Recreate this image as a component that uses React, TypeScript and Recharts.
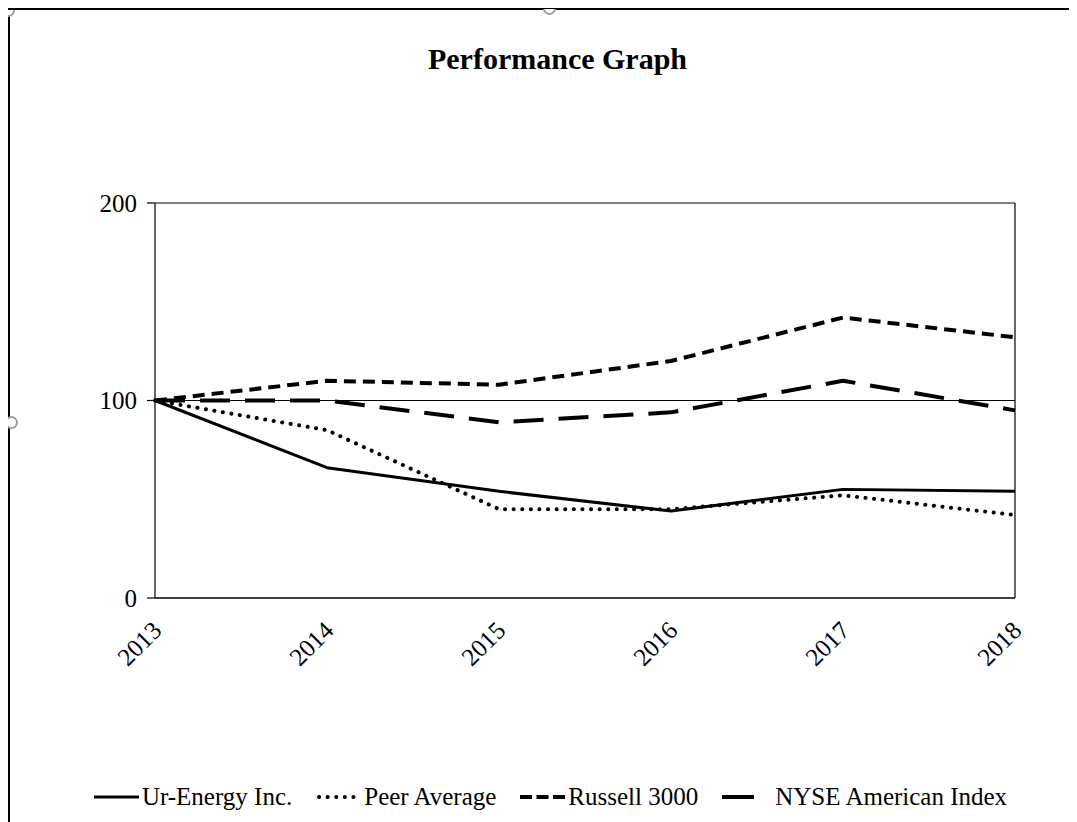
import {
  CartesianGrid,
  Legend,
  Line,
  LineChart,
  ReferenceLine,
  XAxis,
  YAxis,
} from "recharts";

const years = ["2013", "2014", "2015", "2016", "2017", "2018"];
const urEnergy = [100, 66, 54, 44, 55, 54];
const peerAverage = [100, 85, 45, 45, 52, 42];
const russell3000 = [100, 110, 108, 120, 142, 132];
const nyseAmerican = [100, 100, 89, 94, 110, 95];
const yTicks = [0, 100, 200];

const FONT = '"Liberation Serif", "Times New Roman", serif';

const data = years.map((year, i) => ({
  year,
  ur: urEnergy[i],
  peer: peerAverage[i],
  russell: russell3000[i],
  nyse: nyseAmerican[i],
}));

const series = [
  { key: "ur", name: "Ur-Energy Inc.", dash: undefined, width: 3, cap: "butt", iconDash: undefined },
  { key: "peer", name: "Peer Average", dash: "0.1 8.5", width: 4, cap: "round", iconDash: "0.1 8.5" },
  { key: "russell", name: "Russell 3000", dash: "12 7", width: 4, cap: "butt", iconDash: "12 4.5" },
  { key: "nyse", name: "NYSE American Index", dash: "30 15", width: 4, cap: "butt", iconDash: "32 40" },
];

function YearTick(props: any) {
  const { x, y, payload } = props;
  return (
    <g transform={`translate(${x + 8},${y + 34})`}>
      <text
        transform="rotate(-45)"
        textAnchor="end"
        fontFamily={FONT}
        fontSize={25}
        fill="#000"
      >
        {payload.value}
      </text>
    </g>
  );
}

function ChartLegend() {
  return (
    <div
      style={{
        display: "flex",
        justifyContent: "center",
        alignItems: "center",
        gap: 24,
        paddingLeft: 14,
        fontFamily: FONT,
        fontSize: 25,
        color: "#000",
        whiteSpace: "nowrap",
      }}
    >
      {series.map((s) => (
        <div key={s.key} style={{ display: "flex", alignItems: "center" }}>
          <svg width={45} height={12} style={{ marginRight: s.key === "nyse" ? 8 : 3 }}>
            <line
              x1={s.key === "peer" ? 3 : 0}
              y1={6}
              x2={45}
              y2={6}
              stroke="#000"
              strokeWidth={s.width}
              strokeDasharray={s.iconDash}
              strokeLinecap={s.cap as any}
            />
          </svg>
          <span>{s.name}</span>
        </div>
      ))}
    </div>
  );
}

const handle = {
  position: "absolute" as const,
  width: 13,
  height: 13,
  borderRadius: "50%",
  border: "2px solid #a0a0a0",
  background: "#fff",
  boxSizing: "border-box" as const,
};

export default function App() {
  return (
    <div
      style={{
        position: "relative",
        width: 1069,
        height: 814,
        borderTop: "2px solid #000",
        borderLeft: "2px solid #000",
        boxSizing: "border-box",
        background: "#fff",
      }}
    >
      <div
        style={{
          position: "absolute",
          top: 32,
          left: 0,
          width: 1095,
          textAlign: "center",
          fontFamily: FONT,
          fontWeight: "bold",
          fontSize: 30,
          color: "#000",
        }}
      >
        Performance Graph
      </div>
      <LineChart
        width={1067}
        height={812}
        data={data}
        margin={{ top: 193, right: 62, bottom: 144, left: 85 }}
      >
        <CartesianGrid horizontal vertical={false} stroke="#000" strokeWidth={1.2} />
        <XAxis
          dataKey="year"
          tick={<YearTick />}
          tickLine={false}
          tickSize={0}
          tickMargin={0}
          height={80}
          axisLine={{ stroke: "#000", strokeWidth: 1.2 }}
          interval={0}
        />
        <YAxis
          domain={[0, 200]}
          ticks={yTicks}
          width={60}
          tickSize={8}
          tickMargin={10}
          axisLine={{ stroke: "#000", strokeWidth: 1.2 }}
          tickLine={{ stroke: "#000", strokeWidth: 1.2 }}
          tick={{ fontFamily: FONT, fontSize: 25, fill: "#000" }}
        />
        <ReferenceLine x="2018" stroke="#000" strokeWidth={1.2} />
        {series.map((s) => (
          <Line
            key={s.key}
            type="linear"
            dataKey={s.key}
            name={s.name}
            stroke="#000"
            strokeWidth={s.width}
            strokeDasharray={s.dash}
            strokeLinecap={s.cap as any}
            strokeLinejoin="round"
            dot={false}
            activeDot={false}
            isAnimationActive={false}
          />
        ))}
        <Legend
          layout="horizontal"
          verticalAlign="middle"
          align="center"
          wrapperStyle={{ top: 773, left: 0, width: 1067 }}
          content={<ChartLegend />}
        />
      </LineChart>
      <div style={{ ...handle, left: -8, top: -6, clipPath: "inset(6px 0 0 0)" }} />
      <div style={{ ...handle, left: 533, top: -8, clipPath: "inset(7px 0 0 0)" }} />
      <div style={{ ...handle, left: -5, top: 406 }} />
    </div>
  );
}
